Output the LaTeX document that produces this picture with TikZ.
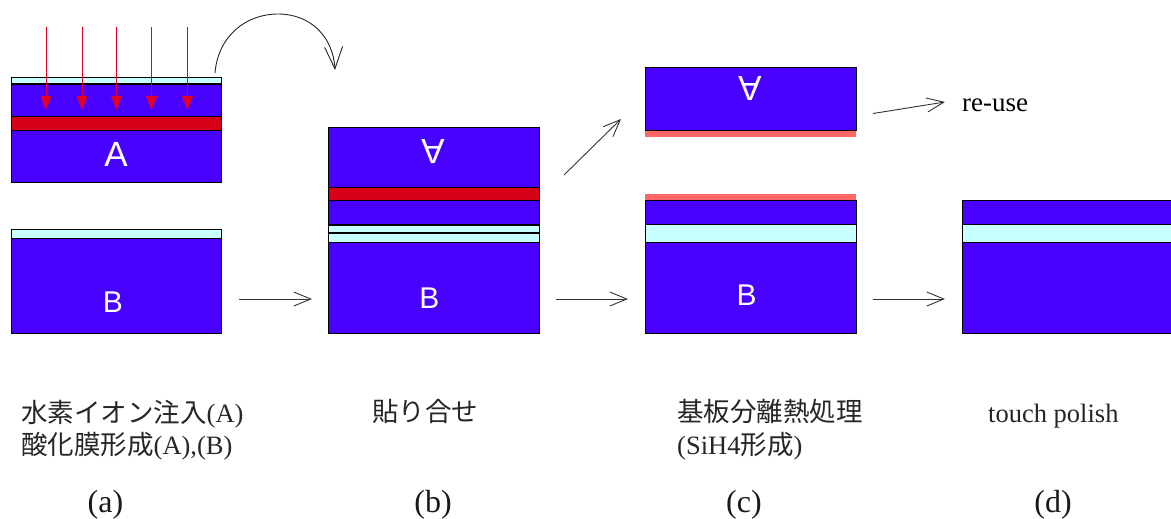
\documentclass[tikz,border=0pt]{standalone}
\usepackage{fontspec}
\usepackage{xcolor}
\setmainfont{Liberation Serif}
\setsansfont{Liberation Sans}
\newfontfamily\cjk{Noto Sans CJK JP}
\usepackage{tikz}
\usetikzlibrary{arrows.meta}
\definecolor{waferblue}{HTML}{4800FF}
\definecolor{implantred}{HTML}{D60018}
\definecolor{oxidecyan}{HTML}{C8FFFF}
\definecolor{splitpink}{HTML}{FF6666}
\definecolor{ionred}{HTML}{E0002A}
\tikzset{
  silicon/.style={draw=black, line width=0.9pt, fill=waferblue},
  implant/.style={draw=black, line width=0.9pt, fill=implantred},
  oxide/.style={draw=black, line width=0.9pt, fill=oxidecyan},
  bondline/.style={draw=black, line width=1.5pt},
  split/.style={fill=splitpink},
  ion/.style={color=ionred, line width=1pt, -{Triangle[length=14pt,width=11pt]}},
  flow/.style={color=black!80, line width=0.9pt, -{Straight Barb[length=17pt,width=14pt]}},
  waferA/.style={text=white, font=\sffamily\fontsize{35}{35}\selectfont},
  waferB/.style={text=white, font=\sffamily\fontsize{30}{30}\selectfont},
  caption/.style={anchor=base west, inner sep=0pt, text=black!85, font=\fontsize{26.5}{26.5}\selectfont},
  sublabel/.style={inner sep=0pt, text=black!90, font=\fontsize{32}{32}\selectfont}
}
\begin{document}
\begin{tikzpicture}[x=1pt,y=-1pt]
\useasboundingbox (0,0) rectangle (1171,519);
\draw[oxide] (11,77) rectangle (221,84);
\draw[silicon] (11,84) rectangle (221,116);
\draw[implant] (11,116) rectangle (221,130);
\draw[silicon] (11,130) rectangle (221,182);
\draw[bondline] (11,84) -- (221,84);
\node[waferA] (la) at (116,154) {A};
\draw[oxide] (11,229) rectangle (221,238);
\draw[silicon] (11,238) rectangle (221,333);
\node[waferB] (lb) at (113,302) {B};
\coordinate (i1) at (46,27);
\coordinate (i1e) at (46,110);
\coordinate (i2) at (82,27);
\coordinate (i2e) at (82,110);
\coordinate (i3) at (116.5,27);
\coordinate (i3e) at (116.5,110);
\coordinate (i4) at (151.5,27);
\coordinate (i4e) at (151.5,110);
\coordinate (i5) at (187.5,27);
\coordinate (i5e) at (187.5,110);
\draw (i1) edge[ion] (i1e);
\draw (i2) edge[ion] (i2e);
\draw (i3) edge[ion] (i3e);
\draw (i4) edge[ion] (i4e);
\draw (i5) edge[ion] (i5e);
\coordinate (fs) at (215,73);
\coordinate (ft) at (278,14);
\coordinate (fe) at (335,70);
\draw[color=black!85, line width=0.9pt, -{Straight Barb[length=22pt,width=18pt]}] (fs) .. controls (218,36) and (246,14) .. (ft) .. controls (310,14) and (333,36) .. (fe);
\coordinate (ab) at (239,299);
\coordinate (abe) at (312,299);
\draw (ab) edge[flow] (abe);
\draw[silicon] (328.5,127) rectangle (539,187);
\draw[implant] (328.5,187) rectangle (539,200);
\draw[silicon] (328.5,200) rectangle (539,225);
\draw[oxide] (328.5,225) rectangle (539,233);
\draw[oxide] (328.5,233) rectangle (539,242);
\draw[silicon] (328.5,242) rectangle (539,333);
\draw[bondline] (328.5,225) -- (539,225);
\draw[bondline] (328.5,233) -- (539,233);
\node[waferA, rotate=180] (lc) at (433,152) {A};
\node[waferB] (ld) at (429.5,298) {B};
\coordinate (bc) at (556,299);
\coordinate (bce) at (628,299);
\draw (bc) edge[flow] (bce);
\coordinate (bu) at (564,175);
\coordinate (bue) at (621,119);
\draw (bu) edge[flow] (bue);
\fill[split] (645,130) rectangle (856,137);
\draw[silicon] (645,67.5) rectangle (856,130);
\node[waferA, rotate=180] (le) at (750,89) {A};
\coordinate (cu) at (873,113.5);
\coordinate (cue) at (945,102);
\draw (cu) edge[flow] (cue);
\node[anchor=base west, inner sep=0pt, font=\fontsize{27}{27}\selectfont] (reuse) at (962,111) {re-use};
\fill[split] (645,193.5) rectangle (856,200.5);
\draw[silicon] (645,200.5) rectangle (856,224.5);
\draw[oxide] (645,224.5) rectangle (856,242.5);
\draw[silicon] (645,242.5) rectangle (856,333);
\draw[bondline] (645,224.5) -- (856,224.5);
\draw[bondline] (645,242.5) -- (856,242.5);
\node[waferB] (lf) at (746.5,295) {B};
\coordinate (cd) at (873,299);
\coordinate (cde) at (945,299);
\draw (cd) edge[flow] (cde);
\draw[silicon] (962,200.5) rectangle (1173,224.5);
\draw[oxide] (962,224.5) rectangle (1173,242.5);
\draw[silicon] (962,242.5) rectangle (1173,333);
\draw[bondline] (962,224.5) -- (1173,224.5);
\draw[bondline] (962,242.5) -- (1173,242.5);
\node[caption] (ta) at (21,422) {{\cjk 水素イオン注入}(A)};
\node[caption] (tb) at (21,454) {{\cjk 酸化膜形成}(A),(B)};
\node[caption] (tc) at (372,421) {{\cjk 貼り合せ}};
\node[caption] (td) at (677,421) {{\cjk 基板分離熱処理}};
\node[caption] (te) at (677,454) {(SiH4{\cjk 形成})};
\node[caption] (tf) at (988,422) {touch polish};
\node[sublabel] (sa) at (105.5,505) {(a)};
\node[sublabel] (sb) at (433,505) {(b)};
\node[sublabel] (sc) at (744,505) {(c)};
\node[sublabel] (sd) at (1053,505) {(d)};
\end{tikzpicture}
\end{document}
